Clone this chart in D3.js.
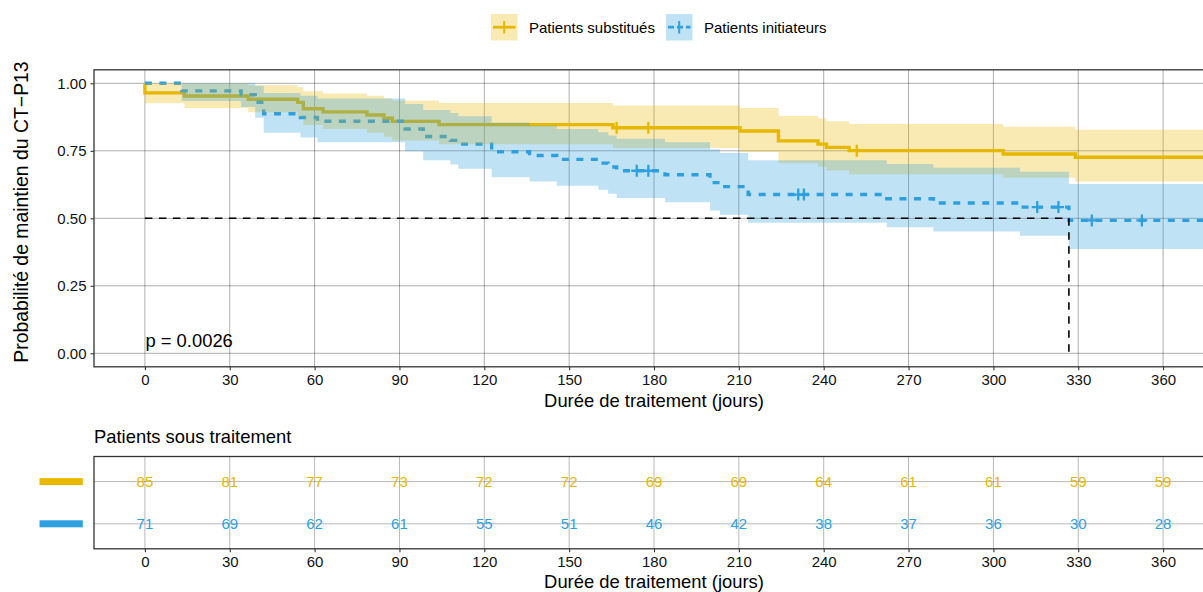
<!DOCTYPE html>
<html>
<head>
<meta charset="utf-8">
<script src="https://cdn.jsdelivr.net/npm/d3@7"></script>
<style>
  body { margin: 0; background: #fff; }
  svg { display: block; font-family: "Liberation Sans", Arial, Helvetica, sans-serif; }
</style>
</head>
<body>
<svg id="chart" width="1203" height="592"></svg>
<script>
// ---- data ----
const groups = ["Patients substitués", "Patients initiateurs"];
const groupColors = ["#E7B800", "#2E9FDF"];
const dayTicks = [0, 30, 60, 90, 120, 150, 180, 210, 240, 270, 300, 330, 360];
const probTicks = [0, 0.25, 0.5, 0.75, 1];
const probTickLabels = ["0.00", "0.25", "0.50", "0.75", "1.00"];

// Kaplan–Meier steps, substituted patients (n = 85)
const subTimes = [0, 14, 36.5, 54, 56, 63, 78.5, 84.5, 87.5, 104, 165.5, 210.4, 224, 238, 241, 249, 303.5, 329];
const subSurv  = [0.9647, 0.9529, 0.9412, 0.9294, 0.9059, 0.8941, 0.8824, 0.8706, 0.8588, 0.8471, 0.8353, 0.8232, 0.7869, 0.7748, 0.7627, 0.7506, 0.7383, 0.7260];
const subUpper = [1, 0.9990, 0.9926, 0.9855, 0.9701, 0.9620, 0.9536, 0.9450, 0.9361, 0.9272, 0.9180, 0.9085, 0.8793, 0.8694, 0.8593, 0.8491, 0.8387, 0.8282];
const subLower = [0.9262, 0.9089, 0.8925, 0.8765, 0.8459, 0.8310, 0.8165, 0.8021, 0.7879, 0.7739, 0.7601, 0.7459, 0.7042, 0.6905, 0.6770, 0.6635, 0.6500, 0.6365];
const subCensored = [166.8, 178, 251.7];

// Kaplan–Meier steps, initiating patients (n = 71)
const iniTimes = [13, 34, 39, 42, 55, 61, 92, 98.4, 108, 110.8, 122.6, 136, 145.6, 160.3, 163.8, 166.8, 183.9, 199.8, 203.3, 213.3, 262.3, 278.8, 309.4, 326.7];
const iniSurv  = [0.9718, 0.9577, 0.9296, 0.8873, 0.8732, 0.8592, 0.8310, 0.8028, 0.7887, 0.7746, 0.7465, 0.7324, 0.7183, 0.7042, 0.6901, 0.6761, 0.6614, 0.6320, 0.6173, 0.5879, 0.5724, 0.5569, 0.5414, 0.4922];
const iniUpper = [1, 1, 0.9911, 0.9640, 0.9541, 0.9441, 0.9229, 0.9009, 0.8896, 0.8781, 0.8549, 0.8430, 0.8309, 0.8188, 0.8065, 0.7942, 0.7814, 0.7553, 0.7420, 0.7153, 0.7012, 0.6870, 0.6727, 0.6272];
const iniLower = [0.9341, 0.9120, 0.8720, 0.8167, 0.7991, 0.7820, 0.7482, 0.7154, 0.6992, 0.6833, 0.6519, 0.6363, 0.6209, 0.6057, 0.5905, 0.5755, 0.5599, 0.5288, 0.5135, 0.4832, 0.4673, 0.4514, 0.4358, 0.3862];
const iniCensored = [173.9, 178, 231, 233, 315.5, 323, 334.8, 352.5];

// patients still on treatment at each tick
const atRiskSub = [85, 81, 77, 73, 72, 72, 69, 69, 64, 61, 61, 59, 59];
const atRiskIni = [71, 69, 62, 61, 55, 51, 46, 42, 38, 37, 36, 30, 28];

const medianDay = 326.7;
const medianProb = 0.5;
const pValueLabel = "p = 0.0026";
const followUpEnd = 378;

// ---- layout ----
const svg = d3.select("#chart");
const FONT_TICK = 15, FONT_TITLE = 18.4;
const panel = { left: 94, top: 69.8, bottom: 366.8 };
const x = d3.scaleLinear().domain([-18, 378]).range([94, 1214]);
const y = d3.scaleLinear().domain([-0.05, 1.05]).range([panel.bottom, panel.top]);

function buildSteps(times, surv, lo, hi) {
  const pts = [{ t: 0, s: 1, lo: 1, hi: 1 }];
  times.forEach((t, i) => pts.push({ t, s: surv[i], lo: lo[i], hi: hi[i] }));
  const last = pts[pts.length - 1];
  pts.push({ t: followUpEnd, s: last.s, lo: last.lo, hi: last.hi });
  return pts;
}
function survAt(pts, t) {
  let v = 1;
  for (const p of pts) { if (p.t <= t) v = p.s; }
  return v;
}

const series = [
  { name: groups[0], color: groupColors[0], dash: null,
    pts: buildSteps(subTimes, subSurv, subLower, subUpper), cens: subCensored },
  { name: groups[1], color: groupColors[1], dash: "7,7.5",
    pts: buildSteps(iniTimes, iniSurv, iniLower, iniUpper), cens: iniCensored }
];

svg.append("defs").append("clipPath").attr("id", "panelClip")
  .append("rect").attr("x", panel.left).attr("y", panel.top)
  .attr("width", x.range()[1] - panel.left).attr("height", panel.bottom - panel.top);

// ---- legend ----
const legendX = [491, 666];
const legend = svg.append("g");
series.forEach((s, i) => {
  const g = legend.append("g").attr("transform", `translate(${legendX[i]},14)`);
  g.append("rect").attr("width", 26.5).attr("height", 26.5)
    .attr("fill", s.color).attr("fill-opacity", 0.3);
  g.append("line").attr("x1", 2).attr("x2", 24.5).attr("y1", 13.2).attr("y2", 13.2)
    .attr("stroke", s.color).attr("stroke-width", 2.8)
    .attr("stroke-dasharray", s.dash ? "6,3" : null);
  g.append("line").attr("x1", 13.2).attr("x2", 13.2).attr("y1", 7).attr("y2", 19.5)
    .attr("stroke", s.color).attr("stroke-width", 2);
  g.append("text").attr("x", 38).attr("y", 19).attr("font-size", 15).attr("fill", "#000")
    .text(s.name);
});

// ---- survival panel ----
const grid = svg.append("g").attr("stroke", "#000").attr("stroke-opacity", 0.32).attr("stroke-width", 1);
dayTicks.forEach(d => grid.append("line")
  .attr("x1", x(d)).attr("x2", x(d)).attr("y1", panel.top).attr("y2", panel.bottom));
probTicks.forEach(p => grid.append("line")
  .attr("x1", panel.left).attr("x2", x.range()[1]).attr("y1", y(p)).attr("y2", y(p)));

const plot = svg.append("g").attr("clip-path", "url(#panelClip)");
const line = d3.line().x(d => x(d.t)).y(d => y(d.s)).curve(d3.curveStepAfter);
const band = d3.area().x(d => x(d.t)).y0(d => y(d.lo)).y1(d => y(d.hi)).curve(d3.curveStepAfter);

// curves first, confidence bands over them
series.forEach(s => {
  plot.append("path").attr("d", line(s.pts)).attr("fill", "none")
    .attr("stroke", s.color).attr("stroke-width", 3.4)
    .attr("stroke-dasharray", s.dash);
});
series.forEach(s => {
  plot.append("path").attr("d", band(s.pts)).attr("fill", s.color).attr("fill-opacity", 0.3);
});
// censoring marks
series.forEach(s => {
  s.cens.forEach(t => {
    const cx = x(t), cy = y(survAt(s.pts, t));
    plot.append("path").attr("d", `M${cx - 5.5},${cy}H${cx + 5.5}M${cx},${cy - 6}V${cy + 6}`)
      .attr("stroke", s.color).attr("stroke-width", 2.3).attr("fill", "none");
  });
});
// median line
plot.append("path")
  .attr("d", `M${x(0)},${y(medianProb)}H${x(medianDay)}V${y(0)}`)
  .attr("fill", "none").attr("stroke", "#000").attr("stroke-width", 1.6)
  .attr("stroke-dasharray", "7.5,6.5");

svg.append("text").attr("x", x(0) + 0.5).attr("y", 346.5).attr("font-size", FONT_TITLE)
  .attr("fill", "#000").text(pValueLabel);

// panel border
svg.append("rect").attr("x", panel.left).attr("y", panel.top)
  .attr("width", x.range()[1] - panel.left).attr("height", panel.bottom - panel.top)
  .attr("fill", "none").attr("stroke", "#333").attr("stroke-width", 1.3);

// axes
const xAxis = d3.axisBottom(x).tickValues(dayTicks).tickSize(3.5).tickPadding(4);
const yAxis = d3.axisLeft(y).tickValues(probTicks).tickFormat((d, i) => probTickLabels[i]).tickSize(3.5).tickPadding(4);
function styleAxis(g) {
  g.select(".domain").remove();
  g.selectAll(".tick line").attr("stroke", "#333").attr("stroke-width", 1.1);
  g.selectAll(".tick text").attr("font-size", FONT_TICK).attr("fill", "#111")
    .attr("font-family", "Liberation Sans, Arial, sans-serif");
}
svg.append("g").attr("transform", `translate(0,${panel.bottom})`).call(xAxis).call(styleAxis);
svg.append("g").attr("transform", `translate(${panel.left},0)`).call(yAxis).call(styleAxis);

svg.append("text").attr("x", (panel.left + x.range()[1]) / 2).attr("y", 407)
  .attr("text-anchor", "middle").attr("font-size", FONT_TITLE).attr("fill", "#000")
  .text("Durée de traitement (jours)");
svg.append("text").attr("transform", `translate(27.5,212) rotate(-90)`)
  .attr("text-anchor", "middle").attr("font-size", 19.4).attr("fill", "#000")
  .text("Probabilité de maintien du CT\u2212P13");

// ---- risk table ----
const table = { top: 456.5, bottom: 548.8 };
const rowY = d3.scalePoint().domain(groups).range([481.6, 523.8]);
const atRisk = [atRiskSub, atRiskIni];

svg.append("text").attr("x", 94).attr("y", 443).attr("font-size", FONT_TITLE).attr("fill", "#000")
  .text("Patients sous traitement");

const tgrid = svg.append("g").attr("stroke", "#000").attr("stroke-opacity", 0.28).attr("stroke-width", 1);
dayTicks.forEach(d => tgrid.append("line")
  .attr("x1", x(d)).attr("x2", x(d)).attr("y1", table.top).attr("y2", table.bottom));
groups.forEach(gname => tgrid.append("line")
  .attr("x1", panel.left).attr("x2", x.range()[1]).attr("y1", rowY(gname)).attr("y2", rowY(gname)));

series.forEach((s, i) => {
  dayTicks.forEach((d, j) => {
    svg.append("text").attr("x", x(d)).attr("y", rowY(s.name))
      .attr("text-anchor", "middle").attr("dominant-baseline", "central")
      .attr("font-size", FONT_TICK).attr("fill", s.color).text(atRisk[i][j]);
  });
  svg.append("rect").attr("x", 39.5).attr("y", rowY(s.name) - 3.5)
    .attr("width", 43.3).attr("height", 7).attr("fill", s.color);
});

svg.append("rect").attr("x", panel.left).attr("y", table.top)
  .attr("width", x.range()[1] - panel.left).attr("height", table.bottom - table.top)
  .attr("fill", "none").attr("stroke", "#333").attr("stroke-width", 1.3);

svg.append("g").attr("transform", `translate(0,${table.bottom})`).call(xAxis).call(styleAxis);
svg.append("text").attr("x", (panel.left + x.range()[1]) / 2).attr("y", 587.5)
  .attr("text-anchor", "middle").attr("font-size", FONT_TITLE).attr("fill", "#000")
  .text("Durée de traitement (jours)");
</script>
</body>
</html>
